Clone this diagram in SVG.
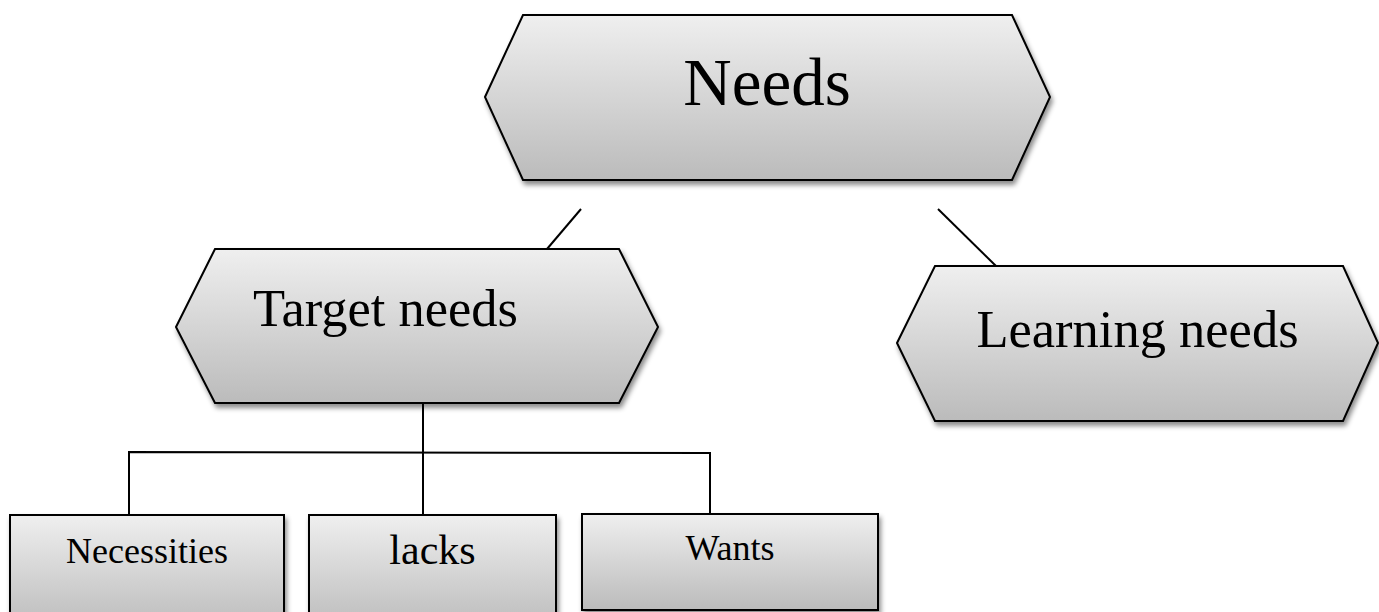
<svg xmlns="http://www.w3.org/2000/svg" width="1379" height="612" viewBox="0 0 1379 612">
  <defs>
    <linearGradient id="g" x1="0" y1="0" x2="0" y2="1">
      <stop offset="0" stop-color="#efefef"/>
      <stop offset="1" stop-color="#bbbbbb"/>
    </linearGradient>
    <filter id="sh" x="-10%" y="-10%" width="130%" height="140%">
      <feDropShadow dx="2" dy="4" stdDeviation="2.5" flood-color="#000" flood-opacity="0.45"/>
    </filter>
  </defs>
  <style>
    .shape { fill: url(#g); stroke: #000; stroke-width: 2; filter: url(#sh); }
    .lbl { font-family: "Liberation Serif", "Times New Roman", serif; fill: #000; }
    .conn line, .conn polyline { stroke: #000; stroke-width: 2; fill: none; }
  </style>
  <rect width="1379" height="612" fill="#fff"/>

  <g class="conn" id="connectors">
    <line x1="581" y1="209" x2="547" y2="249"/>
    <line x1="938" y1="209" x2="996" y2="266"/>
    <line x1="423" y1="402" x2="423" y2="515"/>
    <polyline points="129,515 129,452 710,453 710,514"/>
  </g>

  <g id="needs">
    <polygon class="shape" points="485,97 523,15 1012,15 1050,97 1012,180 523,180"/>
    <text class="lbl" x="767" y="105" font-size="67" text-anchor="middle">Needs</text>
  </g>

  <g id="target-needs">
    <polygon class="shape" points="176,327 215,249 619,249 658,327 619,403 215,403"/>
    <text class="lbl" x="253" y="326" font-size="52.5">Target needs</text>
  </g>

  <g id="learning-needs">
    <polygon class="shape" points="897,343 935,266 1343,266 1378,343 1343,421 935,421"/>
    <text class="lbl" x="1137.5" y="347" font-size="52.5" text-anchor="middle">Learning needs</text>
  </g>

  <g id="necessities">
    <rect class="shape" x="10" y="515" width="274" height="115"/>
    <text class="lbl" x="147" y="563" font-size="36" text-anchor="middle">Necessities</text>
  </g>

  <g id="lacks">
    <rect class="shape" x="309" y="515" width="247" height="115"/>
    <text class="lbl" x="432.5" y="564" font-size="42" text-anchor="middle">lacks</text>
  </g>

  <g id="wants">
    <rect class="shape" x="582" y="514" width="296" height="96"/>
    <text class="lbl" x="730" y="560" font-size="36" text-anchor="middle">Wants</text>
  </g>
</svg>
